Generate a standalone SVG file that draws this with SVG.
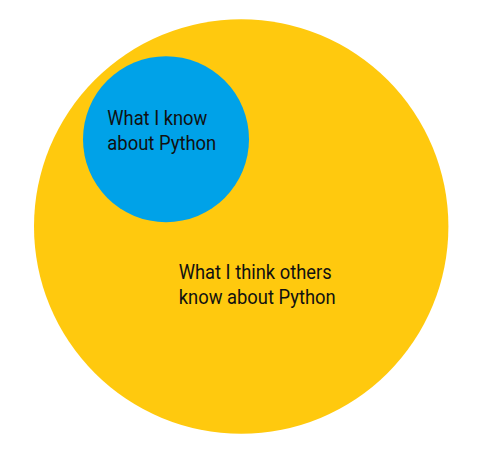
<svg xmlns="http://www.w3.org/2000/svg" width="484" height="461" viewBox="0 0 484 461">
<style>
text{font-family:Roboto,"Liberation Sans",sans-serif;font-size:20px;fill:#111111}
</style>
<rect width="484" height="461" fill="#ffffff"/>
<g id="others">
<circle cx="241.2" cy="226.5" r="207.2" fill="#FFC90E"/>
<text x="178.7" y="279" textLength="153" lengthAdjust="spacingAndGlyphs">What I think others</text>
<text x="178.7" y="304" textLength="157" lengthAdjust="spacingAndGlyphs">know about Python</text>
</g>
<g id="me">
<circle cx="166" cy="139.2" r="83" fill="#00A2E8"/>
<text x="107.3" y="125" textLength="100" lengthAdjust="spacingAndGlyphs">What I know</text>
<text x="107.3" y="150" textLength="109" lengthAdjust="spacingAndGlyphs">about Python</text>
</g>
<g id="connectors"/>
</svg>
